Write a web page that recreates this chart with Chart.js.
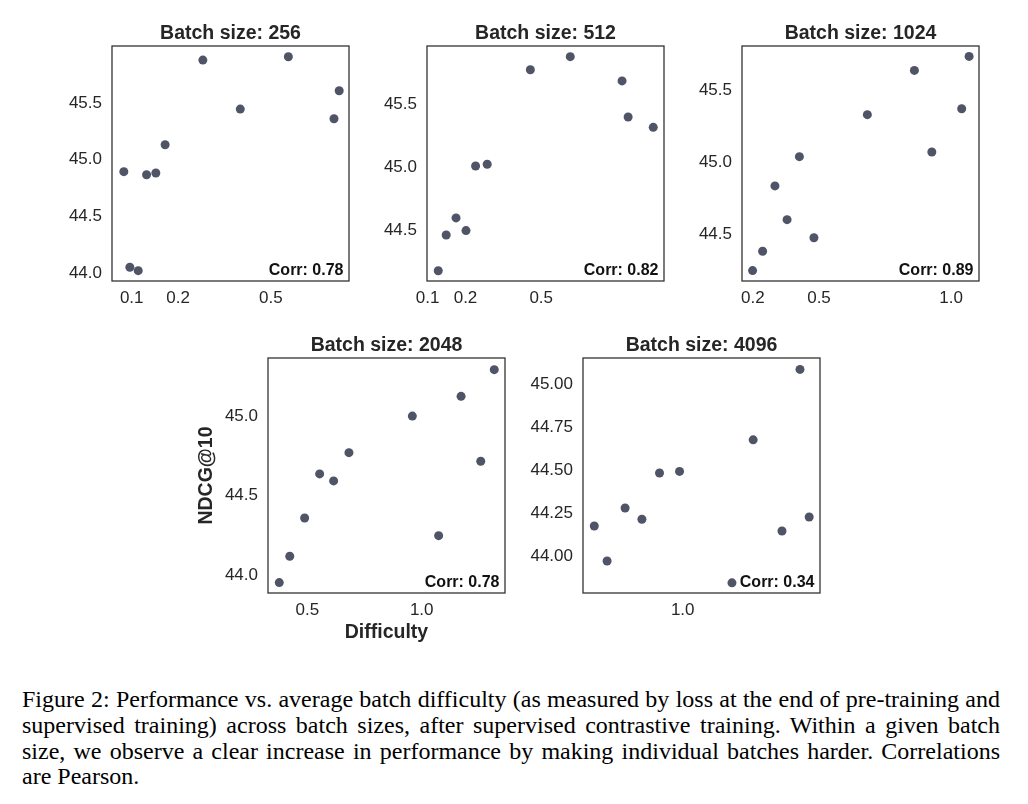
<!DOCTYPE html>
<html>
<head>
<meta charset="utf-8">
<script src="https://cdn.jsdelivr.net/npm/chart.js@4.4.1/dist/chart.umd.min.js"></script>
<style>
  html, body { margin: 0; padding: 0; background: #ffffff; }
  #wrap { position: relative; width: 1028px; height: 804px; overflow: hidden; background: #ffffff; }
  #wrap canvas { position: absolute; }
  #caption { position: absolute; left: 22px; top: 687px; width: 978px;
    font-family: "Liberation Serif", "Times New Roman", serif; font-size: 24px; line-height: 25.8px; color: #000; }
  #caption span { display: block; text-align: justify; text-align-last: justify; }
  #caption span.last { text-align-last: left; }
</style>
</head>
<body>
<div id="wrap">
  <canvas id="c256"></canvas>
  <canvas id="c512"></canvas>
  <canvas id="c1024"></canvas>
  <canvas id="c2048"></canvas>
  <canvas id="c4096"></canvas>
  <div id="caption">
    <span>Figure 2: Performance vs. average batch difficulty (as measured by loss at the end of pre-training and</span>
    <span>supervised training) across batch sizes, after supervised contrastive training. Within a given batch</span>
    <span>size, we observe a clear increase in performance by making individual batches harder. Correlations</span>
    <span class="last">are Pearson.</span>
  </div>
</div>
<script>
// ---------------- DATA ----------------
const batchSizes = ['256', '512', '1024', '2048', '4096'];
const corrValues = ['0.78', '0.82', '0.89', '0.78', '0.34'];

const difficulty256 = [0.083, 0.096, 0.114, 0.132, 0.152, 0.172, 0.280, 0.401, 0.547, 0.670, 0.684];
const ndcg256       = [44.894, 44.053, 44.023, 44.867, 44.882, 45.131, 45.876, 45.445, 45.905, 45.360, 45.606];

const difficulty512 = [0.128, 0.149, 0.175, 0.202, 0.240, 0.286, 0.457, 0.596, 0.767, 0.787, 0.870];
const ndcg512       = [44.177, 44.461, 44.597, 44.496, 45.010, 45.024, 45.776, 45.880, 45.687, 45.400, 45.318];

const difficulty1024 = [0.199, 0.244, 0.300, 0.355, 0.411, 0.477, 0.683, 0.861, 0.927, 1.040, 1.068];
const ndcg1024       = [44.247, 44.381, 44.834, 44.600, 45.037, 44.475, 45.328, 45.635, 45.069, 45.369, 45.732];

const difficulty2048 = [0.353, 0.408, 0.486, 0.554, 0.615, 0.682, 0.959, 1.074, 1.172, 1.258, 1.317];
const ndcg2048       = [43.956, 44.121, 44.361, 44.637, 44.593, 44.770, 44.999, 44.250, 45.123, 44.716, 45.290];

const difficulty4096 = [0.779, 0.811, 0.856, 0.898, 0.942, 0.992, 1.123, 1.176, 1.248, 1.293, 1.316];
const ndcg4096       = [44.178, 43.975, 44.282, 44.217, 44.485, 44.494, 43.849, 44.677, 44.149, 45.085, 44.230];

// tick labels
const xTicks256 = [0.1, 0.2, 0.5];
const xTicks512 = [0.1, 0.2, 0.5];
const xTicks1024 = [0.2, 0.5, 1.0];
const xTicks2048 = [0.5, 1.0];
const xTicks4096 = [1.0];
const yTicks256 = [44.0, 44.5, 45.0, 45.5];
const yTicks512 = [44.5, 45.0, 45.5];
const yTicks1024 = [44.5, 45.0, 45.5];
const yTicks2048 = [44.0, 44.5, 45.0];
const yTicks4096 = [44.00, 44.25, 44.50, 44.75, 45.00];
const yDecimals = [1, 1, 1, 1, 2];

// axis ranges
const xRange256 = [0.0575, 0.7104];
const xRange512 = [0.0983, 0.9055];
const xRange1024 = [0.1669, 1.1055];
const xRange2048 = [0.2939, 1.364];
const xRange4096 = [0.7508, 1.343];
const yRange256 = [43.932, 46.0];
const yRange512 = [44.095, 45.965];
const yRange1024 = [44.175, 45.804];
const yRange2048 = [43.891, 45.363];
const yRange4096 = [43.790, 45.151];

const yAxisTitle = 'NDCG@10';
const xAxisTitle = 'Difficulty';

// ---------------- difficulty axis (1-2-5 spaced) ----------------
const ANCHOR_VALUES = [0.1, 0.2, 0.5, 1.0];
const ANCHOR_STEPS = [0, 1, 3, 7];
function warp(v) {
  const n = ANCHOR_VALUES.length;
  let i = 0;
  if (v <= ANCHOR_VALUES[1]) i = 0;
  else if (v >= ANCHOR_VALUES[n - 2]) i = n - 2;
  else { while (v > ANCHOR_VALUES[i + 1]) i++; }
  const t = (v - ANCHOR_VALUES[i]) / (ANCHOR_VALUES[i + 1] - ANCHOR_VALUES[i]);
  return ANCHOR_STEPS[i] + t * (ANCHOR_STEPS[i + 1] - ANCHOR_STEPS[i]);
}
function unwarp(p) {
  const n = ANCHOR_STEPS.length;
  let i = 0;
  if (p <= ANCHOR_STEPS[1]) i = 0;
  else if (p >= ANCHOR_STEPS[n - 2]) i = n - 2;
  else { while (p > ANCHOR_STEPS[i + 1]) i++; }
  const t = (p - ANCHOR_STEPS[i]) / (ANCHOR_STEPS[i + 1] - ANCHOR_STEPS[i]);
  return ANCHOR_VALUES[i] + t * (ANCHOR_VALUES[i + 1] - ANCHOR_VALUES[i]);
}
class WarpScale extends Chart.LinearScale {
  buildTicks() {
    this.start = this.min; this.end = this.max;
    return [];
  }
  getPixelForValue(value) {
    if (value === null || value === undefined || isNaN(value)) return NaN;
    const a = warp(this.min), b = warp(this.max);
    return this.getPixelForDecimal((warp(value) - a) / (b - a));
  }
  getValueForPixel(pixel) {
    const a = warp(this.min), b = warp(this.max);
    return unwarp(a + this.getDecimalForPixel(pixel) * (b - a));
  }
}
WarpScale.id = 'warp';
WarpScale.defaults = {};
Chart.register(WarpScale);

// ---------------- plugins ----------------
const framePlugin = {
  id: 'frame',
  afterDraw(chart) {
    const { ctx, chartArea: a } = chart;
    ctx.save();
    ctx.strokeStyle = '#333333';
    ctx.lineWidth = 1.3;
    ctx.strokeRect(a.left, a.top, a.right - a.left, a.bottom - a.top);
    ctx.restore();
  }
};
const corrPlugin = {
  id: 'corrLabel',
  afterDatasetsDraw(chart, args, opts) {
    const { ctx, chartArea: a } = chart;
    ctx.save();
    ctx.font = 'bold 16px "Liberation Sans", Arial, sans-serif';
    ctx.fillStyle = '#111111';
    ctx.textAlign = 'right';
    ctx.textBaseline = 'alphabetic';
    ctx.fillText(opts.text, a.right - 5.5, a.bottom - 5.7);
    ctx.restore();
  }
};

// ---------------- layout ----------------
const FONT = '"Liberation Sans", Arial, Helvetica, sans-serif';
const TXT = '#262626';
const POINT = '#4f5466';

function makePanel(idx, canvasId, xs, ys, xTicks, yTicks, xRange, yRange, box, pads, withTitles) {
  const cv = document.getElementById(canvasId);
  const w = (box.r - box.l) + pads.L + pads.R;
  const h = (box.b - box.t) + pads.T + pads.B;
  cv.width = w; cv.height = h;
  cv.style.width = w + 'px'; cv.style.height = h + 'px';
  cv.style.left = (box.l - pads.L) + 'px';
  cv.style.top = (box.t - pads.T) + 'px';
  const dec = yDecimals[idx];
  new Chart(cv, {
    type: 'scatter',
    data: {
      datasets: [{
        data: xs.map((x, j) => ({ x: x, y: ys[j] })),
        pointRadius: 4.5,
        pointHoverRadius: 4.5,
        pointBorderWidth: 0,
        pointBackgroundColor: POINT,
        backgroundColor: POINT,
        borderColor: POINT
      }]
    },
    options: {
      animation: false,
      responsive: false,
      devicePixelRatio: 1,
      events: [],
      layout: { padding: { left: 0, right: pads.R, top: 0, bottom: 0 } },
      plugins: {
        legend: { display: false },
        tooltip: { enabled: false },
        title: {
          display: true,
          text: 'Batch size: ' + batchSizes[idx],
          fullSize: false,
          color: TXT,
          font: { family: FONT, size: 19.5, weight: 'bold', lineHeight: 1.2 },
          padding: { top: 5.5, bottom: 1.1 }
        },
        corrLabel: { text: 'Corr: ' + corrValues[idx] }
      },
      scales: {
        x: {
          type: 'warp',
          min: xRange[0], max: xRange[1],
          afterBuildTicks: (s) => { s.ticks = xTicks.map(v => ({ value: v })); },
          grid: { display: false, drawTicks: false },
          border: { display: false },
          ticks: {
            autoSkip: false, maxRotation: 0, minRotation: 0, padding: 7,
            color: TXT, font: { family: FONT, size: 17 },
            callback: (v) => Number(v).toFixed(1)
          },
          title: {
            display: withTitles,
            text: xAxisTitle,
            color: TXT,
            font: { family: FONT, size: 19.5, weight: 'bold', lineHeight: 1.2 },
            padding: { top: 0, bottom: 0.6 }
          },
          afterFit: (s) => { s.height = pads.B; }
        },
        y: {
          type: 'linear',
          min: yRange[0], max: yRange[1],
          afterBuildTicks: (s) => { s.ticks = yTicks.map(v => ({ value: v })); },
          grid: { display: false, drawTicks: false },
          border: { display: false },
          ticks: {
            autoSkip: false, padding: 10,
            color: TXT, font: { family: FONT, size: 17 },
            callback: (v) => Number(v).toFixed(dec)
          },
          title: {
            display: withTitles,
            text: yAxisTitle,
            color: TXT,
            font: { family: FONT, size: 19.5, weight: 'bold', lineHeight: 1.2 },
            padding: { top: 3, bottom: 0 }
          },
          afterFit: (s) => { s.width = pads.L; }
        }
      }
    },
    plugins: [framePlugin, corrPlugin]
  });
}

const padsTop = { L: 55, T: 30, R: 6, B: 32 };
const padsAxis = { L: 76, T: 30, R: 6, B: 52 };

makePanel(0, 'c256', difficulty256, ndcg256, xTicks256, yTicks256, xRange256, yRange256,
  { l: 112, t: 46, r: 349, b: 281 }, padsTop, false);
makePanel(1, 'c512', difficulty512, ndcg512, xTicks512, yTicks512, xRange512, yRange512,
  { l: 427, t: 46, r: 664, b: 281 }, padsTop, false);
makePanel(2, 'c1024', difficulty1024, ndcg1024, xTicks1024, yTicks1024, xRange1024, yRange1024,
  { l: 742, t: 46, r: 979, b: 281 }, padsTop, false);
makePanel(3, 'c2048', difficulty2048, ndcg2048, xTicks2048, yTicks2048, xRange2048, yRange2048,
  { l: 268, t: 358, r: 505, b: 593 }, padsAxis, true);
makePanel(4, 'c4096', difficulty4096, ndcg4096, xTicks4096, yTicks4096, xRange4096, yRange4096,
  { l: 583, t: 358, r: 820, b: 593 }, padsTop, false);
</script>
</body>
</html>
